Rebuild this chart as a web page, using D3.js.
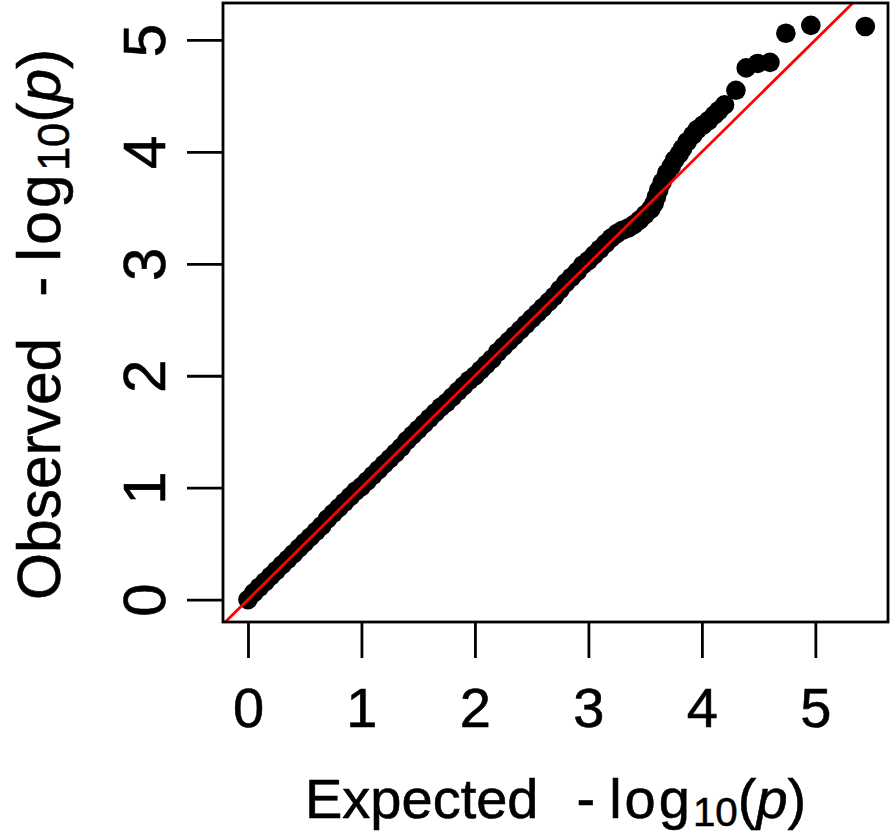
<!DOCTYPE html>
<html>
<head>
<meta charset="utf-8">
<script src="https://cdn.jsdelivr.net/npm/d3@7"></script>
<style>
  html, body { margin: 0; padding: 0; background: #fff; }
  svg { display: block; }
  text { font-family: "Liberation Sans", Arial, Helvetica, sans-serif; fill: #000; }
</style>
</head>
<body>
<svg id="chart" width="894" height="834"></svg>
<script>
// ---- data ----
const expectedLogP = [
  0.00,0.05,0.10,0.15,0.20,0.25,0.30,0.35,0.40,0.45,
  0.50,0.55,0.60,0.65,0.70,0.75,0.80,0.85,0.90,0.95,
  1.00,1.05,1.10,1.15,1.20,1.25,1.30,1.35,1.40,1.45,
  1.50,1.55,1.60,1.65,1.70,1.75,1.80,1.85,1.90,1.95,
  2.00,2.05,2.10,2.15,2.20,2.25,2.30,2.35,2.40,2.45,
  2.50,2.55,2.60,2.65,2.70,2.75,2.80,2.85,2.90,2.95,
  3.00,3.05,3.10,3.15,3.20,3.25,3.30,3.35,3.40,3.45,
  3.50,3.55,3.58,3.60,3.62,3.65,3.69,3.73,3.76,3.80,
  3.83,3.87,3.92,3.96,4.01,4.06,4.11,4.15,4.20,4.30,
  4.39,4.49,4.60,4.74,4.96,5.44
];
const observedLogP = [
  0.00,0.06,0.11,0.16,0.21,0.26,0.31,0.36,0.41,0.46,
  0.51,0.56,0.61,0.66,0.72,0.77,0.82,0.87,0.92,0.97,
  1.01,1.06,1.11,1.16,1.21,1.26,1.31,1.36,1.42,1.47,
  1.52,1.57,1.62,1.67,1.72,1.76,1.81,1.86,1.91,1.96,
  2.00,2.05,2.10,2.15,2.21,2.26,2.31,2.36,2.41,2.46,
  2.51,2.56,2.61,2.66,2.71,2.77,2.83,2.88,2.93,2.99,
  3.03,3.08,3.13,3.18,3.23,3.27,3.30,3.32,3.35,3.39,
  3.44,3.49,3.54,3.60,3.66,3.73,3.81,3.87,3.93,3.98,
  4.03,4.09,4.15,4.20,4.24,4.28,4.33,4.37,4.42,4.55,
  4.75,4.79,4.80,5.06,5.13,5.12
];
const xTickValues = [0, 1, 2, 3, 4, 5];
const yTickValues = [0, 1, 2, 3, 4, 5];
const xDomain = [-0.22, 5.64];
const yDomain = [-0.20, 5.33];
const xTitleWord = "Expected";
const yTitleWord = "Observed";

// ---- layout ----
const svg = d3.select("#chart");
const L = 223, R = 888, T = 3, B = 622;
const x = d3.scaleLinear().domain(xDomain).range([L, R]);
const y = d3.scaleLinear().domain(yDomain).range([B, T]);
const FS = 56;

svg.append("defs").append("clipPath").attr("id", "plotclip")
  .append("rect").attr("x", L).attr("y", T).attr("width", R - L).attr("height", B - T);

const pts = expectedLogP.map((e, i) => ({ e, o: observedLogP[i] }));

const plot = svg.append("g").attr("clip-path", "url(#plotclip)");
plot.selectAll("circle").data(pts).enter().append("circle")
  .attr("cx", d => x(d.e))
  .attr("cy", d => y(d.o))
  .attr("r", 9.8)
  .attr("fill", "#000");

// y = x reference line
const lo = Math.min(xDomain[0], yDomain[0]) - 1, hi = Math.max(xDomain[1], yDomain[1]) + 1;
plot.append("line")
  .attr("x1", x(lo)).attr("y1", y(lo))
  .attr("x2", x(hi)).attr("y2", y(hi))
  .attr("stroke", "#ff0000").attr("stroke-width", 2.8);

// box
svg.append("rect").attr("x", L).attr("y", T).attr("width", R - L).attr("height", B - T)
  .attr("fill", "none").attr("stroke", "#000").attr("stroke-width", 2.8);

// x axis
const xAxis = svg.append("g").attr("transform", `translate(0,${B + 1})`)
  .call(d3.axisBottom(x).tickValues(xTickValues).tickSize(35).tickSizeOuter(0).tickFormat(d3.format("d")));
xAxis.select(".domain").remove();
xAxis.selectAll(".tick line").attr("stroke", "#000").attr("stroke-width", 2.8);
xAxis.selectAll(".tick text")
  .attr("y", 727 - (B + 1)).attr("dy", 0)
  .attr("font-size", FS).attr("font-family", "Liberation Sans, Arial, sans-serif")
  .attr("fill", "#000").attr("stroke", "#000").attr("stroke-width", 0.6);

// y axis
const yAxis = svg.append("g").attr("transform", `translate(${L - 1},0)`)
  .call(d3.axisLeft(y).tickValues(yTickValues).tickSize(35).tickSizeOuter(0).tickFormat(d3.format("d")));
yAxis.select(".domain").remove();
yAxis.selectAll(".tick line").attr("stroke", "#000").attr("stroke-width", 2.8);
yAxis.selectAll(".tick text")
  .attr("x", 0).attr("dy", 0)
  .attr("text-anchor", "middle")
  .attr("transform", `translate(${165 - (L - 1)},0) rotate(-90)`)
  .attr("font-size", 60).attr("font-family", "Liberation Sans, Arial, sans-serif")
  .attr("fill", "#000").attr("stroke", "#000").attr("stroke-width", 0.6);

// axis titles:  Word  - log10(p)
function title(sel, word, k) {
  sel.attr("font-size", FS * k).attr("stroke", "#000").attr("stroke-width", 0.6);
  sel.append("tspan").text(word);
  sel.append("tspan").attr("dx", 38 * k).text("-");
  sel.append("tspan").attr("dx", 14 * k).attr("letter-spacing", 3 * k).text("log");
  sel.append("tspan").attr("font-size", FS * k * 0.72).attr("dy", 8 * k).attr("letter-spacing", 0).text("10");
  sel.append("tspan").attr("dy", -8 * k).text("(");
  sel.append("tspan").attr("font-style", "italic").text("p");
  sel.append("tspan").text(")");
}
svg.append("text").attr("x", 305).attr("y", 818).call(title, xTitleWord, 1);
svg.append("text").attr("transform", "translate(60,600) rotate(-90)").call(title, yTitleWord, 1.08);
</script>
</body>
</html>
